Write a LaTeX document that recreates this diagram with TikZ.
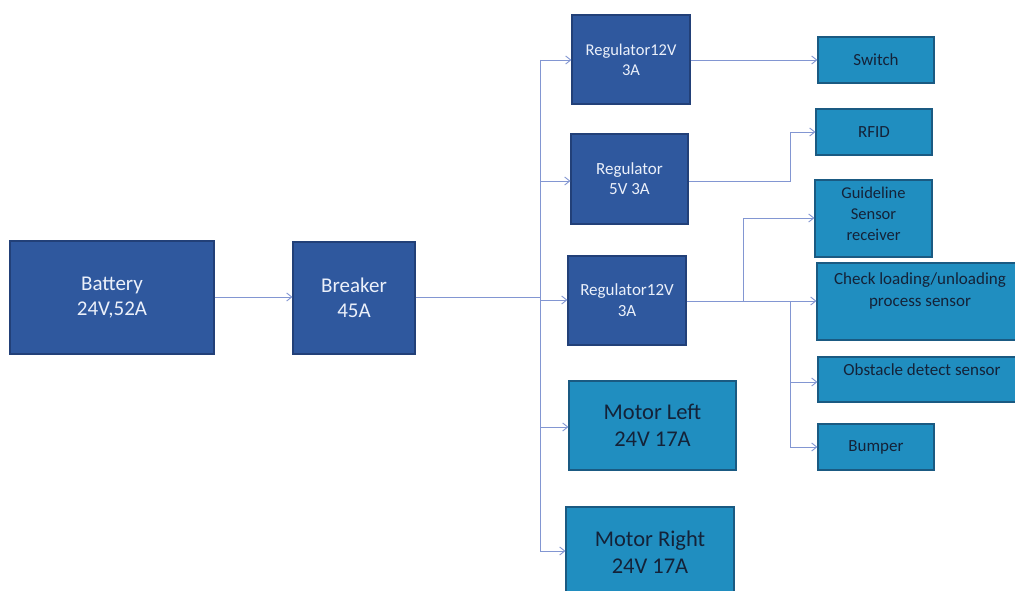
\documentclass[tikz,border=0pt]{standalone}
\usepackage{fontspec}
\setmainfont{Carlito}
\usetikzlibrary{arrows.meta}
\definecolor{dblue}{RGB}{47,88,158}
\definecolor{dblueB}{RGB}{34,64,120}
\definecolor{teal1}{RGB}{32,142,192}
\definecolor{tealB}{RGB}{26,90,130}
\definecolor{wire}{RGB}{130,150,210}
\definecolor{dtext}{RGB}{20,34,56}
\definecolor{ltext}{RGB}{235,240,250}
\tikzset{
  darkbox/.style={draw=dblueB, line width=1.2pt, fill=dblue, text=ltext, align=center, inner sep=0pt},
  tealbox/.style={draw=tealB, line width=1.2pt, fill=teal1, text=dtext, align=center, inner sep=0pt},
  lbl/.style={text=dtext, align=center, inner sep=0pt},
  wirel/.style={draw=wire, line width=0.9pt},
  arr/.style={wirel, -{Straight Barb[length=5pt,width=8pt]}},
}
\begin{document}
\begin{tikzpicture}[x=1pt,y=-1pt]
\clip (0,0) rectangle (1015,591);
\fill[white] (0,0) rectangle (1015,591);
% left
\node[darkbox, minimum width=204, minimum height=113, font=\fontsize{21}{25}\selectfont] (bat) at (112,297.5) {Battery\\24V,52A};
\node[darkbox, minimum width=122, minimum height=112, font=\fontsize{21}{25}\selectfont] (brk) at (354,298) {Breaker\\45A};
% regulators
\node[darkbox, minimum width=118, minimum height=89, font=\fontsize{16.5}{20}\selectfont] (r1) at (631,59.5) {Regulator12V\\3A};
\node[darkbox, minimum width=117, minimum height=90, font=\fontsize{17}{20}\selectfont] (r2) at (629.5,179) {Regulator\\5V 3A};
\node[darkbox, minimum width=118, minimum height=89, font=\fontsize{17}{21}\selectfont] (r3) at (627,300.5) {Regulator12V\\3A};
% motors
\node[tealbox, minimum width=167, minimum height=89, font=\fontsize{22.5}{27}\selectfont] (ml) at (652.5,425.5) {Motor Left\\24V 17A};
\node[tealbox, minimum width=168, minimum height=90, font=\fontsize{22.5}{27}\selectfont] (mr) at (650,552) {Motor Right\\24V 17A};
% loads
\node[tealbox, minimum width=116, minimum height=46, font=\fontsize{17}{20}\selectfont] (sw) at (876,60) {Switch};
\node[tealbox, minimum width=116, minimum height=46, font=\fontsize{17}{20}\selectfont] (rfid) at (874,132) {RFID};
\node[tealbox, minimum width=117, minimum height=77] (gl) at (873.5,218.5) {};
\node[lbl, font=\fontsize{16.5}{21}\selectfont] (glt) at (873.5,214) {Guideline\\Sensor\\receiver};
\node[tealbox, minimum width=210, minimum height=77] (chk) at (922,301.5) {};
\node[lbl, font=\fontsize{17}{22}\selectfont] (chkt) at (920,291) {Check loading/unloading\\process sensor};
\node[tealbox, minimum width=210, minimum height=45] (obs) at (923,379.5) {};
\node[lbl, font=\fontsize{17}{20}\selectfont] (obst) at (922,370) {Obstacle detect sensor};
\node[tealbox, minimum width=116, minimum height=46, font=\fontsize{17}{20}\selectfont] (bmp) at (876,447) {Bumper};
% bus
\coordinate (bx) at (540,297);
\draw[arr] (bat.east |- 0,297) -- (brk.west |- 0,297);
\draw[wirel] (brk.east |- 0,297) -- (bx);
\draw[wirel] (540,60) -- (540,551);
\draw[arr] (540,60) -- (r1.west |- 0,60);
\draw[arr] (540,181) -- (r2.west |- 0,181);
\draw[arr] (540,300) -- (r3.west |- 0,300);
\draw[arr] (540,427) -- (ml.west |- 0,427);
\draw[arr] (540,551) -- (mr.west |- 0,551);
% reg1
\draw[arr] (r1.east |- 0,60) -- (sw.west |- 0,60);
% reg2
\draw[arr] (r2.east |- 0,181) -- (790,181) -- (790,132) -- (rfid.west |- 0,132);
% reg3
\draw[arr] (r3.east |- 0,301) -- (743,301) -- (743,218) -- (gl.west |- 0,218);
\draw[wirel] (743,301) -- (790,301);
\draw[arr] (790,301) -- (chk.west |- 0,301);
\draw[wirel] (790,301) -- (790,447);
\draw[arr] (790,382) -- (obs.west |- 0,382);
\draw[arr] (790,447) -- (bmp.west |- 0,447);
\end{tikzpicture}
\end{document}
